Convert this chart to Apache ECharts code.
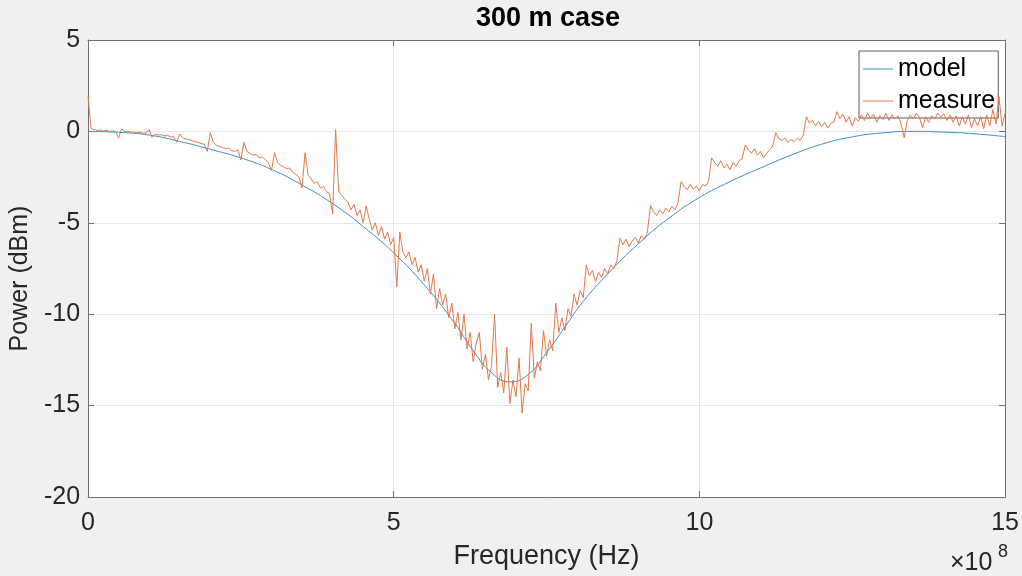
<!DOCTYPE html>
<html>
<head>
<meta charset="utf-8">
<title>300 m case</title>
<script src="https://cdn.jsdelivr.net/npm/echarts@6/dist/echarts.min.js"></script>
<style>
  html, body { margin: 0; padding: 0; background: #f0f0f0; }
  #chart { width: 1022px; height: 576px; }
</style>
</head>
<body>
<div id="chart"></div>
<script>
// Frequency axis ticks (units of 1e8 Hz)
const xTickLabels = [0, 5, 10, 15];
const yTickLabels = [-20, -15, -10, -5, 0, 5];

// Model response: frequency (x1e8 Hz) and power (dBm)
const modelFreq = [0, 0.5, 1.0, 1.5, 2.0, 2.5, 3.0, 3.5, 4.0, 4.5, 5.0, 5.5, 6.0, 6.3, 6.6, 6.9,
  7.2, 7.5, 7.8, 8.1, 8.5, 9.0, 9.5, 10.0, 10.5, 11.0, 11.5, 12.0, 12.5, 13.0, 13.5, 14.0, 14.5, 15.0];
const modelDb = [0, -0.05, -0.2, -0.55, -0.98, -1.45, -2.08, -2.93, -3.95, -5.2, -6.65, -8.4, -10.5, -12.0, -13.2, -13.7,
  -13.3, -12.1, -10.7, -9.3, -7.8, -6.15, -4.75, -3.62, -2.75, -2.0, -1.3, -0.7, -0.3, -0.08, 0, -0.04, -0.13, -0.29];

// Measured power (dBm), sampled every 5 MHz from 0 to 1.5 GHz
const measureStepHz = 5e6;
const measureDb = [
  1.9, 0.15, 0.1, 0.05, 0.08, 0.02, 0.05, 0.0, 0.03, -0.02,
  -0.36, 0.15, -0.02, 0.0, -0.05, -0.03, -0.08, -0.05, -0.1, -0.08,
  0.1, -0.33, -0.15, -0.2, -0.18, -0.25, -0.22, -0.3, -0.3, -0.6,
  -0.14, -0.35, -0.42, -0.45, -0.52, -0.55, -0.6, -0.66, -0.7, -1.1,
  -0.07, -0.6, -0.75, -0.82, -0.88, -0.95, -0.92, -1.05, -1.1, -1.0,
  -1.56, -0.6, -1.1, -1.2, -1.3, -1.25, -1.45, -1.4, -1.55, -1.7,
  -2.15, -1.16, -1.7, -1.85, -1.95, -2.05, -2.0, -2.25, -2.35, -2.5,
  -3.1, -1.16, -2.4, -2.6, -2.85, -2.75, -3.1, -3.0, -3.3, -3.4,
  -4.5, 0.1, -3.3, -3.5, -3.7, -3.85, -4.3, -4.0, -4.6, -4.3,
  -5.0, -4.08, -4.8, -5.4, -5.0, -5.7, -5.2, -5.9, -5.5, -6.2,
  -5.8, -8.5, -5.5, -6.6, -6.9, -6.6, -7.3, -6.9, -7.7, -7.3,
  -8.2, -7.5, -8.9, -7.8, -9.7, -8.6, -9.5, -8.9, -10.2, -9.4,
  -10.8, -9.9, -11.4, -10.0, -11.9, -11.0, -12.6, -11.6, -11.0, -13.0,
  -12.2, -13.6, -12.8, -10.0, -14.0, -13.2, -14.3, -11.8, -14.9, -13.6,
  -14.5, -12.4, -15.4, -13.8, -14.2, -10.5, -13.5, -12.6, -13.1, -10.9,
  -12.3, -11.4, -12.0, -9.4, -11.0, -10.2, -10.9, -9.7, -10.1, -8.9,
  -9.5, -8.7, -9.1, -7.3, -7.9, -7.6, -8.2, -7.7, -8.0, -7.5,
  -7.8, -7.3, -7.5, -7.1, -5.85, -6.2, -5.9, -6.3, -6.0, -5.8,
  -6.1, -5.7, -5.9, -5.5, -4.05, -4.4, -4.6, -4.3, -4.5, -4.2,
  -4.4, -4.1, -4.3, -3.9, -2.75, -3.0, -3.2, -2.9, -3.15, -3.0,
  -3.25, -2.9, -3.0, -2.7, -1.45, -1.7, -1.9, -1.6, -2.0, -1.8,
  -2.1, -1.7, -1.9, -1.6, -1.5, -0.74, -1.0, -1.2, -0.95, -1.3,
  -1.1, -1.45, -1.2, -1.0, -0.8, -0.07, -0.4, -0.5, -0.35, -0.6,
  -0.45, -0.55, -0.38, -0.5, -0.2, 0.8, 0.45, 0.6, 0.3, 0.55,
  0.25, 0.5, 0.2, 0.45, 0.5, 1.08, 0.7, 0.95, 0.5, 0.8,
  0.3, 0.75, 0.55, 0.9, 0.6, 1.0, 0.7, 0.95, 0.5, 0.85,
  0.65, 1.0, 0.6, 0.9, 0.7, 0.85, 0.4, -0.35, 0.6, 0.9,
  0.7, 1.0, 0.75, 0.2, 0.8, 0.5, 0.85, 0.7, 1.0, 0.8,
  0.95, 0.6, 0.9, 0.5, 0.85, 0.3, 0.8, 0.4, 0.9, 0.2,
  0.7, 0.3, 0.8, 0.15, 0.9, 0.3, 1.2, 0.4, 1.9, 0.3,
  1.0
];

const modelData = modelFreq.map((f, i) => [f * 1e8, modelDb[i]]);
const measureData = measureDb.map((v, i) => [i * measureStepHz, v]);

const modelColor = '#3d8fca';
const measureColor = '#e2784a';
const axisColor = '#707070';
const gridColor = '#e6e6e6';
const labelColor = '#262626';
const FONT = '"Liberation Sans", Arial, Helvetica, sans-serif';

const chart = echarts.init(document.getElementById('chart'), null, { renderer: 'canvas' });

const xBase = {
  type: 'value',
  min: 0,
  max: 1.5e9,
  interval: 5e8,
  axisLine: { show: true, onZero: false, lineStyle: { color: axisColor, width: 1 } },
  axisTick: { show: true, inside: true, length: 6, lineStyle: { color: axisColor } },
};
const yBase = {
  type: 'value',
  min: yTickLabels[0],
  max: yTickLabels[yTickLabels.length - 1],
  interval: 5,
  axisLine: { show: true, onZero: false, lineStyle: { color: axisColor, width: 1 } },
  axisTick: { show: true, inside: true, length: 6, lineStyle: { color: axisColor } },
};

chart.setOption({
  backgroundColor: '#f0f0f0',
  animation: false,
  textStyle: { fontFamily: FONT },
  grid: {
    left: 88, right: 14, top: 40, bottom: 79,
    show: true, backgroundColor: '#ffffff', borderWidth: 0
  },
  xAxis: [
    Object.assign({}, xBase, {
      position: 'bottom',
      name: 'Frequency (Hz)',
      nameLocation: 'middle',
      nameGap: 46,
      nameTextStyle: { fontSize: 27, color: labelColor, fontFamily: FONT },
      axisLabel: {
        fontSize: 25, color: labelColor, margin: 14, fontFamily: FONT,
        formatter: v => String(xTickLabels.find(t => t * 1e8 === v) ?? v / 1e8)
      },
      splitLine: { show: true, lineStyle: { color: gridColor, width: 1 } }
    }),
    Object.assign({}, xBase, {
      position: 'top',
      axisLabel: { show: false },
      splitLine: { show: false }
    })
  ],
  yAxis: [
    Object.assign({}, yBase, {
      position: 'left',
      name: 'Power (dBm)',
      nameLocation: 'middle',
      nameGap: 53,
      nameTextStyle: { fontSize: 25, color: labelColor, fontFamily: FONT, padding: [0, 20, 0, 0] },
      axisLabel: { fontSize: 25, color: labelColor, margin: 8, fontFamily: FONT },
      splitLine: { show: true, lineStyle: { color: gridColor, width: 1 } }
    }),
    Object.assign({}, yBase, {
      position: 'right',
      axisLabel: { show: false },
      splitLine: { show: false }
    })
  ],
  legend: {
    orient: 'vertical',
    left: 859,
    top: 51,
    padding: [5, 3, 4, 4],
    itemWidth: 30,
    itemHeight: 1,
    itemGap: 6,
    backgroundColor: '#ffffff',
    borderColor: '#5a5a5a',
    borderWidth: 1,
    borderRadius: 0,
    textStyle: { fontSize: 25, color: '#000000', fontFamily: FONT, lineHeight: 26 },
    data: [
      { name: 'model', icon: 'rect' },
      { name: 'measure', icon: 'rect' }
    ]
  },
  graphic: [
    {
      type: 'text', x: 548, y: 19,
      style: {
        text: '300 m case', fontSize: 27, fontWeight: 'bold', fill: '#000000',
        fontFamily: FONT, textAlign: 'center', textVerticalAlign: 'middle'
      }
    },
    {
      type: 'text', x: 950, y: 563,
      style: {
        text: '\u00d710', fontSize: 25, fill: labelColor,
        fontFamily: FONT, textAlign: 'left', textVerticalAlign: 'middle'
      }
    },
    {
      type: 'text', x: 998, y: 552,
      style: {
        text: '8', fontSize: 18, fill: labelColor,
        fontFamily: FONT, textAlign: 'left', textVerticalAlign: 'middle'
      }
    }
  ],
  series: [
    {
      name: 'model',
      type: 'line',
      data: modelData,
      smooth: true,
      symbol: 'none',
      lineStyle: { color: modelColor, width: 1 },
      itemStyle: { color: modelColor },
      z: 3
    },
    {
      name: 'measure',
      type: 'line',
      data: measureData,
      symbol: 'none',
      lineStyle: { color: measureColor, width: 1 },
      itemStyle: { color: measureColor },
      z: 4
    }
  ]
});
</script>
</body>
</html>
